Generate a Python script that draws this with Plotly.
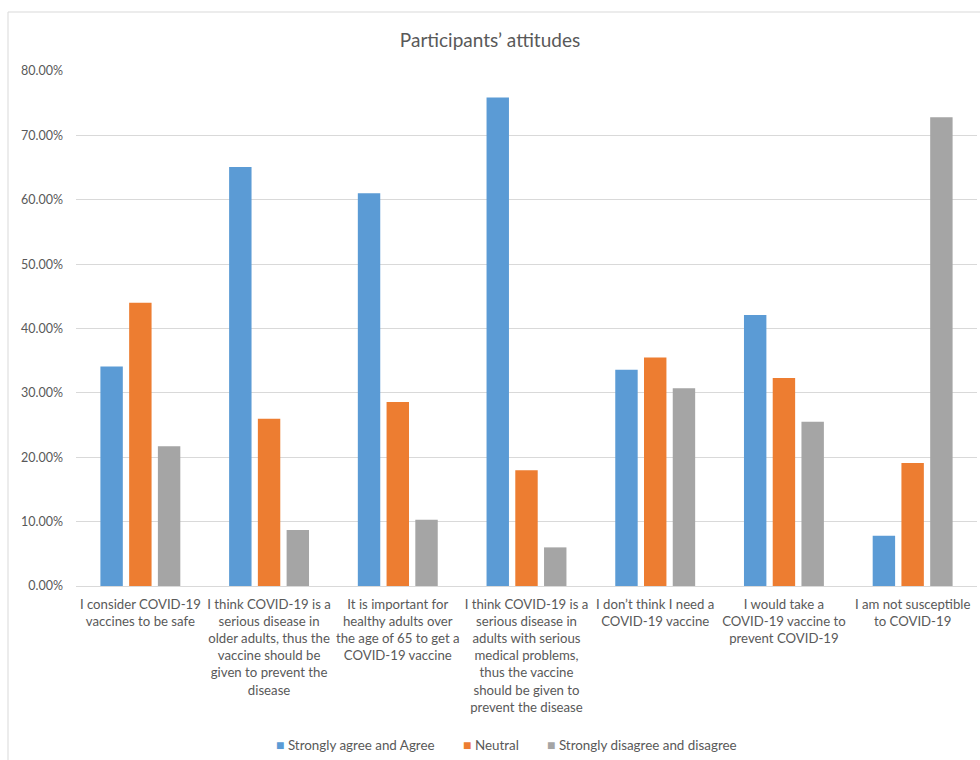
import plotly.graph_objects as go

categories = [
    "I consider COVID-19<br>vaccines to be safe",
    "I think COVID-19 is a<br>serious disease in<br>older adults, thus the<br>vaccine should be<br>given to prevent the<br>disease",
    "It is important for<br>healthy adults over<br>the age of 65 to get a<br>COVID-19 vaccine",
    "I think COVID-19 is a<br>serious disease in<br>adults with serious<br>medical problems,<br>thus the vaccine<br>should be given to<br>prevent the disease",
    "I don’t think I need a<br>COVID-19 vaccine",
    "I would take a<br>COVID-19 vaccine to<br>prevent COVID-19",
    "I am not susceptible<br>to COVID-19",
]
agree = [0.341, 0.651, 0.610, 0.759, 0.336, 0.421, 0.078]
neutral = [0.440, 0.260, 0.286, 0.180, 0.355, 0.323, 0.191]
disagree = [0.217, 0.087, 0.103, 0.060, 0.307, 0.255, 0.728]
series_names = ["Strongly agree and Agree", "Neutral", "Strongly disagree and disagree"]
colors = ["#5B9BD5", "#ED7D31", "#A5A5A5"]

FONT = "Lato"
TXT = "#595959"

L, R, T, B = 76, 3, 71, 174
PW, PH = 980 - L - R, 760 - T - B

fig = go.Figure()
for name, vals, c in zip(series_names, [agree, neutral, disagree], colors):
    fig.add_trace(go.Bar(x=categories, y=vals, name=name, marker_color=c,
                         marker_line_width=0, showlegend=False))

fig.update_layout(
    width=980, height=760,
    margin=dict(l=L, r=R, t=T, b=B),
    paper_bgcolor="white", plot_bgcolor="white",
    barmode="group", bargap=0.33, bargroupgap=0.22,
    font=dict(family=FONT, color=TXT, size=12),
    title=dict(text="Participants’ attitudes", x=0.5, xref="container",
               xanchor="center", y=1 - 40 / 760, yref="container", yanchor="middle",
               font=dict(family=FONT, size=19, color=TXT)),
    showlegend=False,
)
fig.update_yaxes(range=[0, 0.8], dtick=0.1, tickformat=".2%",
                 showgrid=True, gridcolor="#D9D9D9", gridwidth=1,
                 zeroline=False, showline=False,
                 tickfont=dict(family=FONT, size=12.5, color=TXT),
                 ticklabelstandoff=12)
fig.update_xaxes(showline=True, linecolor="#D9D9D9", linewidth=1,
                 showgrid=False, tickangle=0,
                 tickfont=dict(family=FONT, size=13.2, color=TXT),
                 ticklabelstandoff=6)

# legend drawn as annotations (compact Excel-style)
legend_x = [274, 461, 545]
legend_y = 744
for name, c, px in zip(series_names, colors, legend_x):
    fig.add_annotation(
        xref="paper", yref="paper",
        x=(px - L) / PW, y=(T + PH - legend_y) / PH,
        xanchor="left", yanchor="middle", showarrow=False,
        text=f'<span style="color:{c};font-size:14px">■</span> {name}',
        font=dict(family=FONT, size=13.4, color=TXT),
    )

# outer chart border
fig.add_shape(type="rect", xref="paper", yref="paper",
              x0=(8 - L) / PW, x1=(995 - L) / PW,
              y0=(T + PH - 775) / PH, y1=(T + PH - 12) / PH,
              line=dict(color="#D9D9D9", width=1), fillcolor="rgba(0,0,0,0)",
              layer="below")

fig.write_html("out.html")
